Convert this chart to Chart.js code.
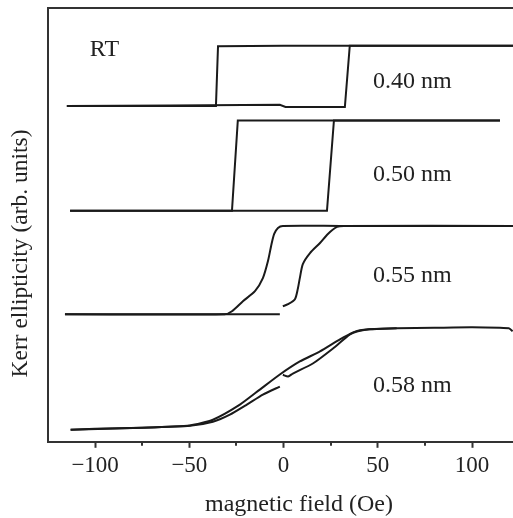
<!DOCTYPE html>
<html><head><meta charset="utf-8">
<script src="https://cdn.jsdelivr.net/npm/chart.js@4.4.1/dist/chart.umd.min.js"></script>
<style>html,body{margin:0;padding:0;background:#fff;overflow:hidden}#wrap{width:513px;height:518px;position:relative}</style>
</head><body><div id="wrap"><canvas id="c"></canvas></div>
<script>
// ---- axis ticks ----
const xMajorTicks = [-100, -50, 0, 50, 100];
const xMajorLabels = ['\u2212100', '\u221250', '0', '50', '100'];
const xMinorTicks = [-75, -25, 25, 75];

// ---- 0.40 nm loop ----
const field040Down = [122, 60, 0, -34.8, -35.9, -80, -115];
const kerr040Down  = [394.5, 394.5, 394.5, 394, 334.5, 334.5, 334.5];
const field040Up   = [-115, -60, -2, 1, 32.5, 35.1, 80, 122];
const kerr040Up    = [334.3, 334.8, 335.6, 333.4, 333.4, 394.5, 394.5, 394.5];

// ---- 0.50 nm loop ----
const field050Down = [114.8, 40, -24.3, -27.4, -113.3];
const kerr050Down  = [320, 320, 320, 230, 230];
const field050Up   = [-113.3, 0, 23.0, 26.7, 114.8];
const kerr050Up    = [230, 230, 230, 320, 320];

// ---- 0.55 nm loop ----
const field055Down = [125, 30, -0.4, -3, -5, -6.4, -8.3, -11.0, -15.2, -21.6, -27.4, -31.1, -116];
const kerr055Down  = [215, 215, 215, 213, 207, 197, 180, 163, 150, 140, 130, 127, 127];
const field055Up   = [-116, -2, null, -0.4, 2.3, 6.0, 7.6, 8.6, 10.2, 14.0, 19.3, 23.5, 28.3, 32, 125];
const kerr055Up    = [127, 127, null, 135, 137, 142, 153, 163, 177, 188, 198, 207, 214, 215, 215];

// ---- 0.58 nm loop ----
const field058Down = [121.5, 119.5, 100, 80, 60, 45, 40.5, 37, 29.9, 19.3, 8.6, -2.0, -12.6, -23.2, -37.5, -49.7, -75, -100, -113];
const kerr058Down  = [110, 113, 114, 113.5, 113, 112, 111, 109, 102, 90, 80, 67, 52, 37, 22, 16.3, 14, 13, 12];
const field058Up   = [-113, -75, -49.7, -37.5, -28.5, -19.5, -11, -2, null, -0.4, 2.4, 4.9, 15.5, 26.2, 35.2, 39.4, 45.8, 60];
const kerr058Up    = [12, 14, 16, 20, 27, 37, 47, 55, null, 66.7, 65, 68, 78, 93, 107, 110, 112, 113];

// ---- in-plot labels ----
const noteTexts  = ['RT', '0.40 nm', '0.50 nm', '0.55 nm', '0.58 nm'];
const noteFields = [-102.8, 47.4, 47.4, 47.4, 47.4];
const noteKerr   = [384.3, 352, 259.3, 159.3, 49.3];

const xTitle = 'magnetic field (Oe)';
const yTitle = 'Kerr ellipticity (arb. units)';

function pts(xs, ys) { return xs.map((v, i) => ({ x: v === null ? null : v, y: ys[i] })); }
const LINE = '#1a1a1a';
function ds(xs, ys, tension) {
  return { data: pts(xs, ys), borderColor: LINE, borderWidth: 2, pointRadius: 0, tension: tension, spanGaps: false, fill: false };
}

const serif = '"Liberation Serif", "Times New Roman", serif';

const framePlugin = {
  id: 'frame',
  afterDraw(chart) {
    const ctx = chart.ctx, a = chart.chartArea, xs = chart.scales.x, ys = chart.scales.y;
    ctx.save();
    ctx.strokeStyle = '#333';
    ctx.lineWidth = 2;
    ctx.beginPath();
    ctx.moveTo(a.left - 1, a.top);
    ctx.lineTo(a.right, a.top);
    ctx.stroke();
    // minor ticks
    xMinorTicks.forEach(v => {
      const px = Math.round(xs.getPixelForValue(v));
      ctx.beginPath();
      ctx.moveTo(px, a.bottom);
      ctx.lineTo(px, a.bottom + 4);
      ctx.stroke();
    });
    // notes
    ctx.fillStyle = '#222';
    ctx.font = '24px ' + serif;
    ctx.textBaseline = 'alphabetic';
    ctx.textAlign = 'left';
    noteTexts.forEach((t, i) => {
      ctx.fillText(t, xs.getPixelForValue(noteFields[i]), ys.getPixelForValue(noteKerr[i]));
    });
    // axis titles
    ctx.font = '24px ' + serif;
    ctx.textAlign = 'center';
    ctx.textBaseline = 'middle';
    ctx.fillText(xTitle, 299, 505);
    ctx.save();
    ctx.translate(21, 253.5);
    ctx.rotate(-Math.PI / 2);
    ctx.font = '23.5px ' + serif;
    ctx.fillText(yTitle, 0, 0);
    ctx.restore();
    ctx.restore();
  }
};

new Chart(document.getElementById('c'), {
  type: 'line',
  data: {
    datasets: [
      ds(field040Down, kerr040Down, 0), ds(field040Up, kerr040Up, 0),
      ds(field050Down, kerr050Down, 0), ds(field050Up, kerr050Up, 0),
      ds(field055Down, kerr055Down, 0.25), ds(field055Up, kerr055Up, 0.25),
      ds(field058Down, kerr058Down, 0.2), ds(field058Up, kerr058Up, 0.2)
    ]
  },
  options: {
    responsive: true,
    maintainAspectRatio: false,
    animation: false,
    layout: { padding: { top: 8, left: 48, right: 0, bottom: 34.6 } },
    plugins: { legend: { display: false }, tooltip: { enabled: false } },
    scales: {
      x: {
        type: 'linear', position: 'bottom', min: -125, max: 121.7,
        afterBuildTicks: s => { s.ticks = xMajorTicks.map(v => ({ value: v })); },
        ticks: {
          callback: (v) => { const i = xMajorTicks.indexOf(v); return i >= 0 ? xMajorLabels[i] : null; },
          font: { family: serif, size: 23 }, color: '#222', padding: 4, maxRotation: 0, autoSkip: false
        },
        grid: { drawOnChartArea: false, drawTicks: true, tickLength: 6, tickWidth: 2, tickColor: '#333' },
        border: { display: true, width: 2, color: '#333' }
      },
      y: {
        type: 'linear', min: 0, max: 432,
        ticks: { display: false },
        grid: { display: false, drawTicks: false },
        border: { display: true, width: 2, color: '#333' }
      }
    }
  },
  plugins: [framePlugin]
});
</script>
</body></html>
